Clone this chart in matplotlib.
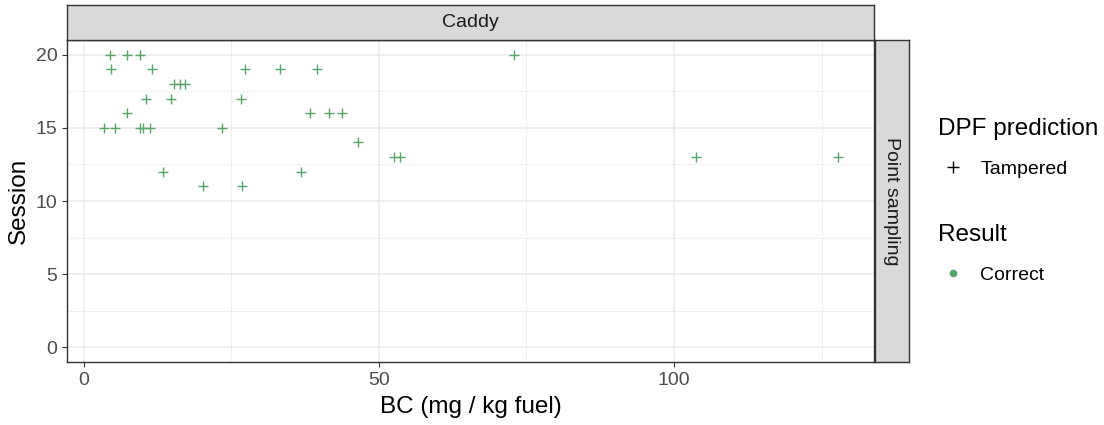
import numpy as np
import matplotlib
matplotlib.use("Agg")
import matplotlib.pyplot as plt
from matplotlib.lines import Line2D

plt.rcParams["font.family"] = ["Liberation Sans", "DejaVu Sans"]

# BC per session, point sampling (Caddy)
session = [20, 20, 20, 20,
           19, 19, 19, 19, 19,
           18, 18, 18,
           17, 17, 17,
           16, 16, 16, 16,
           15, 15, 15, 15, 15, 15,
           14,
           13, 13, 13, 13,
           12, 12,
           11, 11]
bc = [4.45, 7.4, 9.5, 72.9,
      4.7, 11.6, 27.3, 33.3, 39.5,
      15.3, 16.4, 17.1,
      10.5, 14.8, 26.6,
      7.4, 38.4, 41.5, 43.8,
      3.4, 5.3, 9.5, 10.0, 11.2, 23.4,
      46.4,
      52.5, 53.6, 103.8, 127.75,
      13.4, 36.8,
      20.2, 26.9]

x_ticks = [0, 50, 100]
y_ticks = [0, 5, 10, 15, 20]
facet_col = "Caddy"
facet_row = "Point sampling"
pred_label = "Tampered"
result_label = "Correct"

GREEN = "#5aa469"
BORDER = "#333333"
GRID = "#ebebeb"
STRIP = "#d9d9d9"
TXT = 14
TITLE = 17.5

W, H = 1104, 425
fig = plt.figure(figsize=(W / 100, H / 100), dpi=100)

L, R, T, B = 67, 874.5, 40, 362
ax = fig.add_axes([L / W, 1 - B / H, (R - L) / W, (B - T) / H])

ax.scatter(bc, session, marker="+", s=50, color=GREEN, linewidths=1.0, zorder=3)

# ggplot-style 5% expansion
xlo, xhi = min(bc), max(bc)
xr = xhi - xlo
ax.set_xlim(xlo - 0.05 * xr, xhi + 0.05 * xr)
ylo, yhi = min(y_ticks), max(session)
yr = yhi - ylo
ax.set_ylim(ylo - 0.05 * yr, yhi + 0.05 * yr)

ax.set_xticks(x_ticks)
ax.set_yticks(y_ticks)
ax.set_xticks([25, 75, 125], minor=True)
ax.set_yticks([2.5, 7.5, 12.5, 17.5], minor=True)
ax.grid(True, which="major", color=GRID, linewidth=1.1, zorder=0)
ax.grid(True, which="minor", color=GRID, linewidth=0.55, zorder=0)
ax.set_axisbelow(True)
ax.tick_params(which="major", length=3.5, width=0.8, color=BORDER,
               labelsize=TXT, labelcolor="#4d4d4d", pad=3.5)
ax.tick_params(which="minor", length=0)
for sp in ax.spines.values():
    sp.set_color(BORDER)
    sp.set_linewidth(1.0)

ax.set_xlabel("BC (mg / kg fuel)", fontsize=TITLE, color="black", labelpad=5)
ax.set_ylabel("Session", fontsize=TITLE, color="black", labelpad=4)

# facet strips
top = fig.add_axes([L / W, 1 - T / H, (R - L) / W, 35 / H])
right = fig.add_axes([R / W, 1 - B / H, 34.5 / W, (B - T) / H])
for s in (top, right):
    s.set_facecolor(STRIP)
    s.set_xticks([])
    s.set_yticks([])
    for sp in s.spines.values():
        sp.set_color(BORDER)
        sp.set_linewidth(1.0)
top.text(0.5, 0.5, facet_col, ha="center", va="center", fontsize=TXT,
         color="#1a1a1a", transform=top.transAxes)
right.text(0.5, 0.5, facet_row, ha="center", va="center", fontsize=TXT,
           color="#1a1a1a", rotation=-90, transform=right.transAxes)

# legends
h1 = Line2D([], [], marker="+", ls="none", color="black", markersize=8, markeredgewidth=1.0)
h2 = Line2D([], [], marker="o", ls="none", color=GREEN, markersize=4.5)
common = dict(loc="upper left", frameon=False, fontsize=TXT, title_fontsize=TITLE,
              handlelength=1.55, handletextpad=0.62, borderpad=0, borderaxespad=0,
              labelspacing=1.05, alignment="left")
fig.legend(handles=[h1], labels=[pred_label], title="DPF prediction",
           bbox_to_anchor=(938 / W, 1 - 118 / H), **common)
fig.legend(handles=[h2], labels=[result_label], title="Result",
           bbox_to_anchor=(938 / W, 1 - 224 / H), **common)

fig.savefig("out.png", dpi=100, facecolor="white")
